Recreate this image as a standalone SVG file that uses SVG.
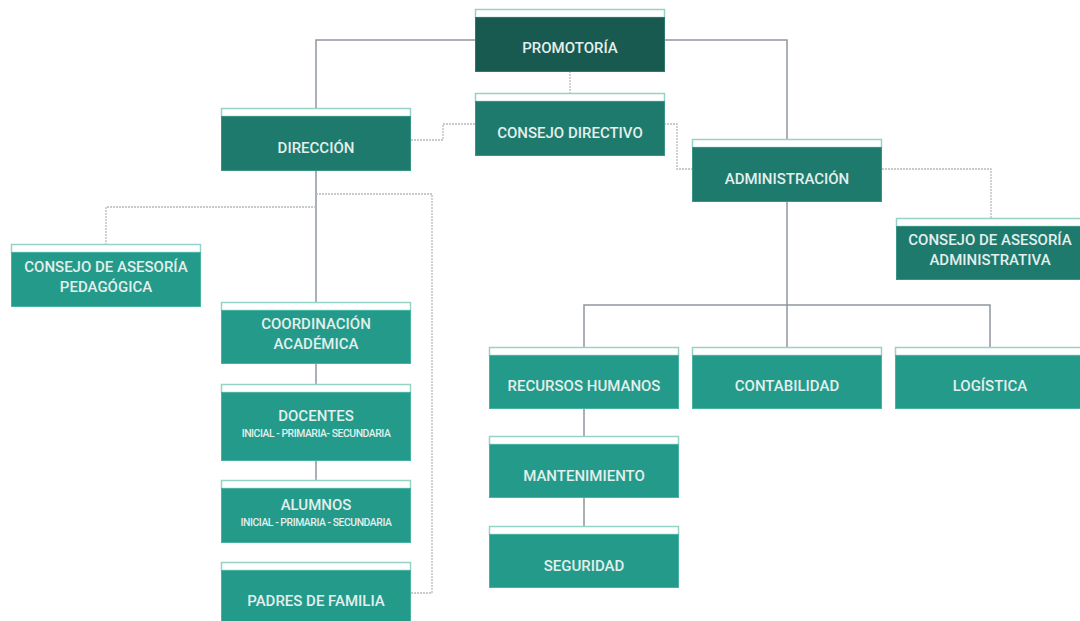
<svg xmlns="http://www.w3.org/2000/svg" width="1080" height="621" viewBox="0 0 1080 621">
<style>
.strip{fill:#ffffff;stroke:#96d2c6;stroke-width:1.5}
.d0{fill:#185a4f;stroke:#2a7a6c;stroke-width:1}
.d1{fill:#1e7a6c;stroke:#3a9484;stroke-width:1}
.d2{fill:#239a8a;stroke:#48b3a3;stroke-width:1}
text{font-family:Roboto,"Liberation Sans",sans-serif;font-weight:500;fill:#e2efec;text-anchor:middle;font-size:15px}
.sub{font-size:10.4px;letter-spacing:-0.45px}
.solid{fill:none;stroke:#8f969f;stroke-width:1.5}
.dot{fill:none;stroke:#b7bbbf;stroke-width:1.3;stroke-dasharray:2 1}
</style>
<rect width="1080" height="621" fill="#ffffff"/>
<g id="connectors">
<path class="solid" d="M475,40 H316 V108"/>
<path class="solid" d="M664,40 H787 V139"/>
<path class="solid" d="M316,171 V303"/>
<path class="solid" d="M316,363 V384"/>
<path class="solid" d="M316,461 V480"/>
<path class="solid" d="M787,201 V347"/>
<path class="solid" d="M584,347 V305 H990 V347"/>
<path class="solid" d="M584,408 V436"/>
<path class="solid" d="M584,498 V526"/>
<path class="dot" d="M570,71 V93"/>
<path class="dot" d="M475,124 H443 V140 H411"/>
<path class="dot" d="M664,124 H677 V169 H692"/>
<path class="dot" d="M882,169 H991 V218"/>
<path class="dot" d="M316,194 H432 V593 H411"/>
<path class="dot" d="M316,207 H106 V244"/>
</g>
<g id="promotoria"><rect class="strip" x="475.5" y="9.5" width="189" height="8"/><rect class="d0" x="475.5" y="17.5" width="189" height="54"/><text x="570" y="53">PROMOTORÍA</text></g>
<g id="consejo-directivo"><rect class="strip" x="475.5" y="93.5" width="189" height="8"/><rect class="d1" x="475.5" y="101.5" width="189" height="54"/><text x="570" y="138">CONSEJO DIRECTIVO</text></g>
<g id="direccion"><rect class="strip" x="221.5" y="108.5" width="189" height="8"/><rect class="d1" x="221.5" y="116.5" width="189" height="54"/><text x="316" y="153">DIRECCIÓN</text></g>
<g id="administracion"><rect class="strip" x="692.5" y="139.5" width="189" height="8"/><rect class="d1" x="692.5" y="147.5" width="189" height="54"/><text x="787" y="184">ADMINISTRACIÓN</text></g>
<g id="consejo-asesoria-administrativa"><rect class="strip" x="896.5" y="218.5" width="190" height="8"/><rect class="d1" x="896.5" y="226.5" width="190" height="53"/><text x="990" y="245">CONSEJO DE ASESORÍA</text><text x="990" y="265">ADMINISTRATIVA</text></g>
<g id="consejo-asesoria-pedagogica"><rect class="strip" x="11.5" y="244.5" width="189" height="8"/><rect class="d2" x="11.5" y="252.5" width="189" height="54"/><text x="106" y="272">CONSEJO DE ASESORÍA</text><text x="106" y="292">PEDAGÓGICA</text></g>
<g id="coordinacion-academica"><rect class="strip" x="221.5" y="302.5" width="189" height="8"/><rect class="d2" x="221.5" y="310.5" width="189" height="53"/><text x="316" y="329">COORDINACIÓN</text><text x="316" y="349">ACADÉMICA</text></g>
<g id="docentes"><rect class="strip" x="221.5" y="384.5" width="189" height="8"/><rect class="d2" x="221.5" y="392.5" width="189" height="68"/><text x="316" y="421">DOCENTES</text><text class="sub" x="316" y="437">INICIAL - PRIMARIA- SECUNDARIA</text></g>
<g id="alumnos"><rect class="strip" x="221.5" y="480.5" width="189" height="8"/><rect class="d2" x="221.5" y="488.5" width="189" height="54"/><text x="316" y="510">ALUMNOS</text><text class="sub" x="316" y="526">INICIAL - PRIMARIA - SECUNDARIA</text></g>
<g id="padres-de-familia"><rect class="strip" x="221.5" y="562.5" width="189" height="8"/><rect class="d2" x="221.5" y="570.5" width="189" height="60"/><text x="316" y="606">PADRES DE FAMILIA</text></g>
<g id="recursos-humanos"><rect class="strip" x="489.5" y="347.5" width="189" height="8"/><rect class="d2" x="489.5" y="355.5" width="189" height="53"/><text x="584" y="391">RECURSOS HUMANOS</text></g>
<g id="contabilidad"><rect class="strip" x="692.5" y="347.5" width="189" height="8"/><rect class="d2" x="692.5" y="355.5" width="189" height="53"/><text x="787" y="391">CONTABILIDAD</text></g>
<g id="logistica"><rect class="strip" x="895.5" y="347.5" width="190" height="8"/><rect class="d2" x="895.5" y="355.5" width="190" height="53"/><text x="990" y="391">LOGÍSTICA</text></g>
<g id="mantenimiento"><rect class="strip" x="489.5" y="436.5" width="189" height="8"/><rect class="d2" x="489.5" y="444.5" width="189" height="53"/><text x="584" y="481">MANTENIMIENTO</text></g>
<g id="seguridad"><rect class="strip" x="489.5" y="526.5" width="189" height="8"/><rect class="d2" x="489.5" y="534.5" width="189" height="53"/><text x="584" y="571">SEGURIDAD</text></g>
</svg>
